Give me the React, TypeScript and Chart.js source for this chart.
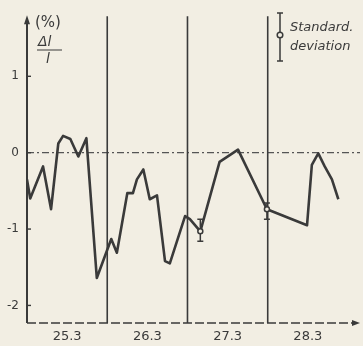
import React, { useEffect, useRef } from "react";
import { Chart, registerables } from "chart.js";

Chart.register(...registerables);

// time in days from start of 25.3
const timeDays = [0, 0.04, 0.2, 0.3, 0.39, 0.45, 0.54, 0.64, 0.74, 0.87, 1.05, 1.12, 1.25, 1.32, 1.37, 1.45, 1.53, 1.62, 1.72, 1.78, 1.97, 2.03, 2.16, 2.4, 2.63, 2.99, 3.49, 3.55, 3.63, 3.71, 3.8, 3.88];
const deltaL = [-0.35, -0.6, -0.18, -0.74, 0.12, 0.22, 0.18, -0.05, 0.19, -1.64, -1.13, -1.31, -0.53, -0.53, -0.35, -0.22, -0.61, -0.56, -1.42, -1.45, -0.83, -0.87, -1.03, -0.12, 0.04, -0.74, -0.95, -0.16, -0.01, -0.18, -0.35, -0.61];

const dayLabels = ["25.3", "26.3", "27.3", "28.3"];
const dayCenters = [0.5, 1.5, 2.5, 3.5];
const dayBoundaries = [1, 2, 3];
const yTicks = [-2, -1, 0, 1];

const errX = [2.16, 2.99];
const errHigh = [-0.87, -0.66];
const errLow = [-1.16, -0.87];
const errMid = [-1.03, -0.74];

const BG = "#f2eee3";
const INK = "#3a3a3a";

export default function App() {
  const ref = useRef<HTMLCanvasElement>(null);
  useEffect(() => {
    const canvas = ref.current!;
    const deco = {
      id: "deco",
      beforeDraw(chart: any) {
        const { ctx, chartArea: a, scales } = chart;
        const x = scales.x, y = scales.y;
        ctx.save();
        ctx.fillStyle = BG;
        ctx.fillRect(0, 0, chart.width, chart.height);
        // zero line dash-dot
        ctx.strokeStyle = "#555";
        ctx.lineWidth = 1.2;
        ctx.setLineDash([7, 3, 2, 3]);
        const y0 = y.getPixelForValue(0);
        ctx.beginPath();
        ctx.moveTo(a.left, y0);
        ctx.lineTo(a.right, y0);
        ctx.stroke();
        ctx.setLineDash([]);
        // vertical day lines
        ctx.strokeStyle = INK;
        ctx.lineWidth = 1.6;
        dayBoundaries.forEach((d) => {
          const px = x.getPixelForValue(d);
          ctx.beginPath();
          ctx.moveTo(px, a.top + 1);
          ctx.lineTo(px, a.bottom);
          ctx.stroke();
        });
        // x axis dashed
        ctx.lineWidth = 1.6;
        ctx.setLineDash([9, 3]);
        ctx.beginPath();
        ctx.moveTo(a.left, a.bottom);
        ctx.lineTo(a.right - 4, a.bottom);
        ctx.stroke();
        ctx.setLineDash([]);
        ctx.fillStyle = INK;
        ctx.beginPath();
        ctx.moveTo(a.right, a.bottom);
        ctx.lineTo(a.right - 8, a.bottom - 3);
        ctx.lineTo(a.right - 8, a.bottom + 3);
        ctx.closePath();
        ctx.fill();
        // y axis
        ctx.lineWidth = 2;
        ctx.beginPath();
        ctx.moveTo(a.left, a.bottom);
        ctx.lineTo(a.left, a.top + 4);
        ctx.stroke();
        ctx.beginPath();
        ctx.moveTo(a.left, a.top);
        ctx.lineTo(a.left - 3, a.top + 9);
        ctx.lineTo(a.left + 3, a.top + 9);
        ctx.closePath();
        ctx.fill();
        // y tick marks
        ctx.lineWidth = 1.4;
        yTicks.forEach((v) => {
          const py = y.getPixelForValue(v);
          ctx.beginPath();
          ctx.moveTo(a.left, py);
          ctx.lineTo(a.left + 4, py);
          ctx.stroke();
        });
        // y title
        ctx.fillStyle = INK;
        ctx.font = "15px 'DejaVu Sans'";
        ctx.textBaseline = "alphabetic";
        ctx.textAlign = "left";
        ctx.fillText("(%)", 35, 27);
        ctx.font = "italic 14px 'DejaVu Sans'";
        ctx.fillText("Δl", 38, 46);
        ctx.lineWidth = 1;
        ctx.beginPath();
        ctx.moveTo(37, 50);
        ctx.lineTo(62, 50);
        ctx.stroke();
        ctx.fillText("l", 46, 63);
        // legend
        ctx.lineWidth = 1.5;
        ctx.beginPath();
        ctx.moveTo(280, 13);
        ctx.lineTo(280, 61);
        ctx.moveTo(277, 13);
        ctx.lineTo(283, 13);
        ctx.moveTo(277, 61);
        ctx.lineTo(283, 61);
        ctx.stroke();
        ctx.fillStyle = BG;
        ctx.beginPath();
        ctx.arc(280, 35, 2.8, 0, Math.PI * 2);
        ctx.fill();
        ctx.stroke();
        ctx.fillStyle = INK;
        ctx.font = "italic 13px 'DejaVu Sans'";
        ctx.fillText("Standard.", 290, 31);
        ctx.fillText("deviation", 290, 50);
        ctx.restore();
      },
      afterDatasetsDraw(chart: any) {
        const { ctx, scales } = chart;
        const x = scales.x, y = scales.y;
        ctx.save();
        ctx.strokeStyle = INK;
        ctx.lineWidth = 1.5;
        errX.forEach((d, i) => {
          const px = x.getPixelForValue(d);
          const t = y.getPixelForValue(errHigh[i]);
          const b = y.getPixelForValue(errLow[i]);
          ctx.beginPath();
          ctx.moveTo(px, t);
          ctx.lineTo(px, b);
          ctx.moveTo(px - 3, t);
          ctx.lineTo(px + 3, t);
          ctx.moveTo(px - 3, b);
          ctx.lineTo(px + 3, b);
          ctx.stroke();
          ctx.fillStyle = BG;
          ctx.beginPath();
          ctx.arc(px, y.getPixelForValue(errMid[i]), 2.5, 0, Math.PI * 2);
          ctx.fill();
          ctx.stroke();
        });
        ctx.restore();
      },
    };
    const chart = new Chart(canvas, {
      type: "scatter",
      data: {
        datasets: [
          {
            data: timeDays.map((t, i) => ({ x: t, y: deltaL[i] })),
            showLine: true,
            borderColor: INK,
            borderWidth: 2.6,
            pointRadius: 0,
            tension: 0,
            borderJoinStyle: "round",
          } as any,
        ],
      },
      options: {
        responsive: false,
        animation: false,
        devicePixelRatio: 1,
        layout: { padding: { left: 0, top: 12, right: 3, bottom: 0 } },
        plugins: { legend: { display: false }, tooltip: { enabled: false } },
        scales: {
          x: {
            type: "linear",
            min: 0,
            max: 4.15,
            grid: { display: false, drawTicks: false },
            border: { display: false },
            afterFit(scale: any) {
              scale.height = 23;
            },
            afterBuildTicks(scale: any) {
              scale.ticks = dayCenters.map((v) => ({ value: v }));
            },
            ticks: {
              padding: 6,
              color: "#3a3a3a",
              font: { family: "'DejaVu Sans'", size: 13 },
              maxRotation: 0,
              autoSkip: false,
              callback: (v: any) => {
                const i = dayCenters.indexOf(Number(v));
                return i >= 0 ? dayLabels[i] : "";
              },
            },
          },
          y: {
            type: "linear",
            min: -2.23,
            max: 1.8,
            grid: { display: false, drawTicks: false },
            border: { display: false },
            afterFit(scale: any) {
              scale.width = 27;
            },
            afterBuildTicks(scale: any) {
              scale.ticks = yTicks.map((v) => ({ value: v }));
            },
            ticks: {
              padding: 8,
              color: "#3a3a3a",
              font: { family: "'DejaVu Sans'", size: 12 },
              callback: (v: any) => String(v),
            },
          },
        },
      },
      plugins: [deco],
    });
    return () => chart.destroy();
  }, []);
  return (
    <div style={{ position: "fixed", left: 0, top: 0, width: 363, height: 346, background: BG }}>
      <canvas ref={ref} width={363} height={346} style={{ display: "block", width: 363, height: 346 }} />
    </div>
  );
}
